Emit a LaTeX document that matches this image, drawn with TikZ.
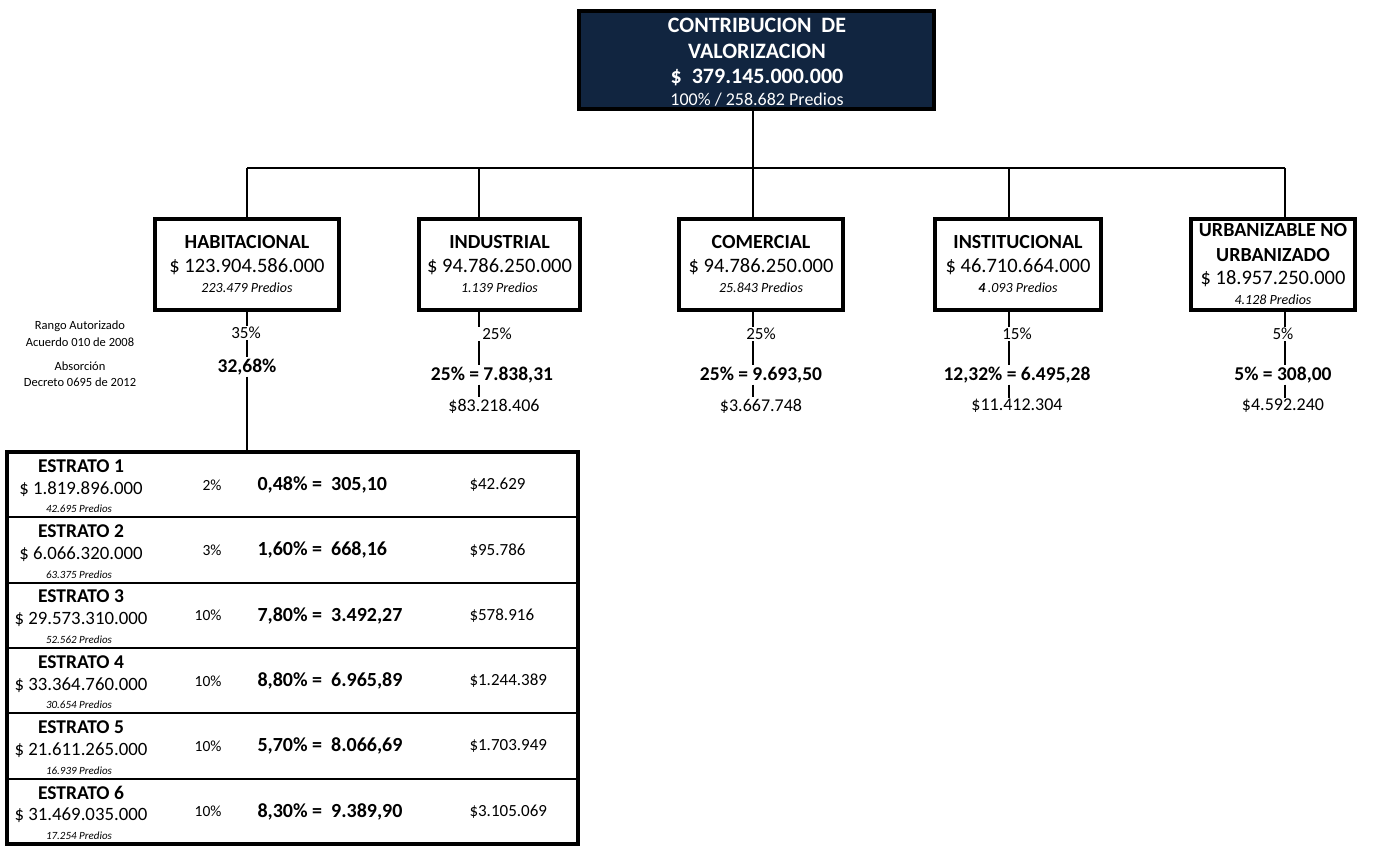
\documentclass[tikz,border=0pt]{standalone}
\usepackage{fontspec}
\setmainfont{Carlito}
\definecolor{navy}{RGB}{17,37,64}
\begin{document}
\begin{tikzpicture}[x=1pt,y=-1pt,
  every node/.style={outer sep=0pt},
  box/.style={draw=black,line width=4pt,inner sep=0pt,minimum height=91pt},
  conn/.style={line width=2.5pt},
  txt/.style={inner sep=1.5pt,align=center},
  toptl/.style={txt,text=white,font=\fontsize{22}{26}\selectfont\bfseries},
  topsub/.style={txt,text=white,font=\fontsize{18}{22}\selectfont},
  ttl/.style={txt,font=\fontsize{20}{24}\selectfont\bfseries},
  amt/.style={txt,font=\fontsize{20.5}{24}\selectfont},
  prd/.style={txt,font=\fontsize{14}{17}\selectfont\itshape},
  pct/.style={txt,font=\fontsize{17}{20}\selectfont},
  bval/.style={txt,font=\fontsize{19.5}{24}\selectfont\bfseries},
  mval/.style={txt,font=\fontsize{18}{22}\selectfont},
  note/.style={txt,font=\fontsize{12.5}{15}\selectfont},
  rowbox/.style={draw=black,line width=2.2pt,minimum width=571pt,minimum height=65.333pt,inner sep=0pt},
  est/.style={txt,font=\fontsize{19.5}{23}\selectfont\bfseries},
  eamt/.style={txt,font=\fontsize{18.8}{22}\selectfont},
  eprd/.style={txt,font=\fontsize{11}{13}\selectfont\itshape},
  epct/.style={txt,font=\fontsize{15.5}{18}\selectfont,anchor=east},
  ebold/.style={txt,font=\fontsize{20}{24}\selectfont\bfseries,anchor=west},
  evalue/.style={txt,font=\fontsize{17}{20}\selectfont,anchor=west}
]
\useasboundingbox (0,0) rectangle (1377,848);

% top box
\node[draw=black,line width=4pt,fill=navy,minimum width=355pt,minimum height=98pt,inner sep=0pt] (top) at (756.5,60) {};
\node[toptl] (t1) at (757,25) {CONTRIBUCION\ \ DE};
\node[toptl] (t2) at (757,51) {VALORIZACION};
\node[toptl] (t3) at (757,77) {\$\ \ 379.145.000.000};
\node[topsub] (t4) at (757,100) {100\% / 258.682 Predios};

% bus coordinates
\coordinate (dh) at (247,168);
\coordinate (di) at (479,168);
\coordinate (dc) at (753,168);
\coordinate (dn) at (1009,168);
\coordinate (du) at (1285,168);

% category boxes
\node[box,minimum width=184pt] (hab) at (247,264.5) {};
\node[box,minimum width=161pt] (ind) at (499.5,264.5) {};
\node[box,minimum width=164pt] (com) at (761,264.5) {};
\node[box,minimum width=166pt] (inst) at (1018,264.5) {};
\node[box,minimum width=164pt] (urb) at (1273,264.5) {};

\node[ttl] (habT) at (247,242) {HABITACIONAL};
\node[amt] (habA) at (247,267) {\$ 123.904.586.000};
\node[prd] (habP) at (247,288) {223.479 Predios};

\node[ttl] (indT) at (499.5,242) {INDUSTRIAL};
\node[amt] (indA) at (499.5,267) {\$ 94.786.250.000};
\node[prd] (indP) at (499.5,288) {1.139 Predios};

\node[ttl] (comT) at (761,242) {COMERCIAL};
\node[amt] (comA) at (761,267) {\$ 94.786.250.000};
\node[prd] (comP) at (761,288) {25.843 Predios};

\node[ttl] (instT) at (1018,242) {INSTITUCIONAL};
\node[amt] (instA) at (1018,267) {\$ 46.710.664.000};
\node[prd] (instP) at (1018,288) {{\bfseries 4}\,.093 Predios};

\node[ttl] (urbT1) at (1273,230) {URBANIZABLE NO};
\node[ttl] (urbT2) at (1273,255) {URBANIZADO};
\node[amt] (urbA) at (1273,279) {\$ 18.957.250.000};
\node[prd] (urbP) at (1273,300) {4.128 Predios};

% connectors top
\draw[conn] (dc |- top.south) -- (dc);
\draw[conn] (dh) -- (du);
\draw[conn] (dh) -- (dh |- hab.north);
\draw[conn] (di) -- (di |- ind.north);
\draw[conn] (dc) -- (dc |- com.north);
\draw[conn] (dn) -- (dn |- inst.north);
\draw[conn] (du) -- (du |- urb.north);

% notes
\node[note] (n1) at (80,326) {Rango Autorizado};
\node[note] (n2) at (80,342) {Acuerdo 010 de 2008};
\node[note] (n3) at (80,366) {Absorción};
\node[note] (n4) at (80,382) {Decreto 0695 de 2012};

% below texts
\node[pct] (habQ) at (246,333) {35\%};
\node[bval] (habB) at (247,367) {32,68\%};

\node[pct] (indQ) at (497,334) {25\%};
\node[bval] (indB) at (492,375) {25\% = 7.838,31};
\node[mval] (indV) at (494,406) {\$83.218.406};

\node[pct] (comQ) at (761,334) {25\%};
\node[bval] (comB) at (761,375) {25\% = 9.693,50};
\node[mval] (comV) at (761,406) {\$3.667.748};

\node[pct] (instQ) at (1017,334) {15\%};
\node[bval] (instB) at (1017,375) {12,32\% = 6.495,28};
\node[mval] (instV) at (1017,406) {\$11.412.304};

\node[pct] (urbQ) at (1283,334) {5\%};
\node[bval] (urbB) at (1283,375) {5\% = 308,00};
\node[mval] (urbV) at (1283,406) {\$4.592.240};

% table rows
\foreach \i/\a/\p/\q/\b/\c/\v in {
  1/{1.819.896.000}/{42.695}/2/{0,48}/{305,10}/{42.629},
  2/{6.066.320.000}/{63.375}/3/{1,60}/{668,16}/{95.786},
  3/{29.573.310.000}/{52.562}/10/{7,80}/{3.492,27}/{578.916},
  4/{33.364.760.000}/{30.654}/10/{8,80}/{6.965,89}/{1.244.389},
  5/{21.611.265.000}/{16.939}/10/{5,70}/{8.066,69}/{1.703.949},
  6/{31.469.035.000}/{17.254}/10/{8,30}/{9.389,90}/{3.105.069}}{
  \pgfmathsetmacro\T{452+65.333*(\i-1)}
  \node[rowbox] (r\i) at (292.5,\T+32.667) {};
  \node[est] (e\i) at (81,\T+14) {ESTRATO \i};
  \node[eamt] (ea\i) at (81,\T+37) {\$ \a};
  \node[eprd] (ep\i) at (79,\T+57) {\p\ Predios};
  \node[epct] (eq\i) at (223,\T+33) {\q\%};
  \node[ebold] (eb\i) at (256,\T+33) {\b\% =\ \ \c};
  \node[evalue] (ev\i) at (468,\T+33) {\$\v};
}
\draw[line width=4pt] (r1.north west) rectangle (r6.south east);

% connectors below
\draw[conn] (dh |- hab.south) -- (dh |- habQ.north);
\draw[conn] (dh |- habQ.south) -- (dh |- habB.north);
\draw[conn] (dh |- habB.south) -- (dh |- r1.north);

\draw[conn] (di |- ind.south) -- (di |- indQ.north);
\draw[conn] (di |- indQ.south) -- (di |- indB.north);
\draw[conn] (di |- indB.south) -- (di |- indV.north);

\draw[conn] (dc |- com.south) -- (dc |- comQ.north);
\draw[conn] (dc |- comQ.south) -- (dc |- comB.north);
\draw[conn] (dc |- comB.south) -- (dc |- comV.north);

\draw[conn] (dn |- inst.south) -- (dn |- instQ.north);
\draw[conn] (dn |- instQ.south) -- (dn |- instB.north);
\draw[conn] (dn |- instB.south) -- (dn |- instV.north);

\draw[conn] (du |- urb.south) -- (du |- urbQ.north);
\draw[conn] (du |- urbQ.south) -- (du |- urbB.north);
\draw[conn] (du |- urbB.south) -- (du |- urbV.north);
\end{tikzpicture}
\end{document}
